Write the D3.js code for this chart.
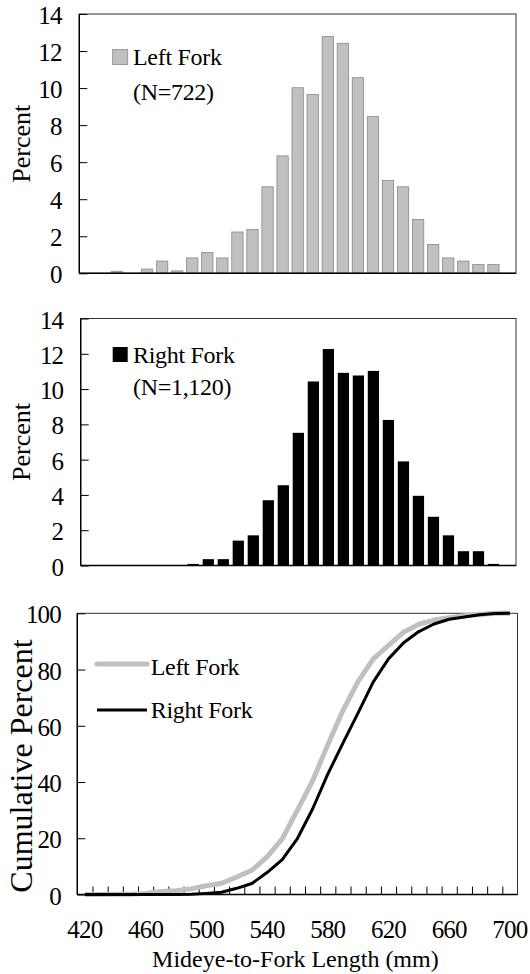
<!DOCTYPE html>
<html>
<head>
<meta charset="utf-8">
<script src="https://cdn.jsdelivr.net/npm/d3@7"></script>
<style>
  html, body { margin: 0; padding: 0; background: #fff; }
  svg { display: block; }
  text { font-family: "Liberation Serif", "Times New Roman", serif; fill: #000; }
</style>
</head>
<body>
<svg id="chart" width="530" height="974"></svg>
<script>
// Length classes (mm), 10-mm bins
const lengthClasses = ["420","430","440","450","460","470","480","490","500","510",
                       "520","530","540","550","560","570","580","590","600","610",
                       "620","630","640","650","660","670","680","690","700"];

// Percent of fish in each length class
const leftForkPct  = [0, 0, 0.11, 0, 0.23, 0.66, 0.13, 0.83, 1.13, 0.83,
                      2.23, 2.37, 4.67, 6.34, 10.02, 9.66, 12.78, 12.42, 10.56, 8.46,
                      5.01, 4.67, 2.91, 1.56, 0.83, 0.66, 0.47, 0.47, 0];
const rightForkPct = [0, 0, 0, 0, 0, 0, 0, 0.09, 0.36, 0.36,
                      1.41, 1.71, 3.70, 4.55, 7.52, 10.43, 12.27, 10.92, 10.77, 11.03,
                      8.25, 5.90, 3.95, 2.76, 1.71, 0.81, 0.81, 0.09, 0];

// Cumulative percent by length class
const leftForkCum  = [0, 0, 0.1, 0.1, 0.4, 1.1, 1.3, 2.0, 3.1, 4.0,
                      6.2, 8.6, 13.4, 19.8, 30.0, 40.4, 53.2, 65.4, 75.8, 83.8,
                      88.6, 93.3, 96.1, 97.6, 98.4, 99.1, 99.6, 100, 100];
const rightForkCum = [0, 0, 0, 0, 0, 0, 0, 0.1, 0.4, 0.8,
                      2.2, 3.9, 7.8, 12.4, 19.9, 30.4, 42.8, 53.8, 64.6, 75.6,
                      83.8, 89.5, 93.5, 96.2, 97.9, 98.7, 99.5, 99.9, 100];

// Axis tick values and labels
const pctTicks = [0, 2, 4, 6, 8, 10, 12, 14];
const cumTicks = [0, 20, 40, 60, 80, 100];
const xLabelClasses = ["420","460","500","540","580","620","660","700"];

const GRAY = "#c0c0c0";
const svg = d3.select("#chart");

function frame(g, b) {
  g.append("rect")
    .attr("x", b.left).attr("y", b.top)
    .attr("width", b.right - b.left).attr("height", b.bottom - b.top)
    .attr("fill", "none").attr("stroke", "#333").attr("stroke-width", 1);
  g.append("line").attr("x1", b.left).attr("x2", b.left)
    .attr("y1", b.top).attr("y2", b.bottom)
    .attr("stroke", "#000").attr("stroke-width", 1.4);
  g.append("line").attr("x1", b.left).attr("x2", b.right)
    .attr("y1", b.bottom).attr("y2", b.bottom)
    .attr("stroke", "#000").attr("stroke-width", 1.4);
}

function yAxis(g, b, y, ticks, labelRight) {
  const ax = g.append("g")
    .attr("transform", `translate(${b.left},0)`)
    .call(d3.axisLeft(y).tickValues(ticks).tickSize(-8)
      .tickPadding(b.left - labelRight).tickFormat(d3.format("d")));
  ax.select(".domain").remove();
  ax.selectAll(".tick line").attr("stroke", "#000").attr("stroke-width", 1);
  ax.selectAll(".tick text")
    .attr("font-size", 25).attr("letter-spacing", -0.8)
    .attr("font-family", "Liberation Serif").attr("fill", "#000")
    .attr("dy", "0.38em");
}

function yTitle(g, text, x, cy, size) {
  g.append("text")
    .attr("transform", `translate(${x},${cy}) rotate(-90)`)
    .attr("text-anchor", "middle")
    .attr("font-size", size)
    .text(text);
}

function histogram(b, values, fill, stroke, legendLines, legendY) {
  const g = svg.append("g");
  const x = d3.scaleBand().domain(lengthClasses)
    .range([b.left, b.right]).paddingInner(0.25).paddingOuter(0.125);
  const y = d3.scaleLinear().domain([0, 14]).range([b.bottom, b.top]);

  const data = lengthClasses.map((c, i) => ({ c, v: values[i] })).filter(d => d.v > 0);
  g.selectAll("rect.bar").data(data).join("rect")
    .attr("class", "bar")
    .attr("x", d => x(d.c))
    .attr("width", x.bandwidth())
    .attr("y", d => y(d.v))
    .attr("height", d => y(0) - y(d.v))
    .attr("fill", fill)
    .attr("stroke", stroke)
    .attr("stroke-width", stroke === "none" ? 0 : 0.8);

  frame(g, b);
  yAxis(g, b, y, pctTicks, b.labelRight);
  yTitle(g, "Percent", 30, (b.top + b.bottom) / 2, 26);

  // legend
  g.append("rect")
    .attr("x", 112.7).attr("y", legendY[0] - 15.5)
    .attr("width", 15).attr("height", 15)
    .attr("fill", fill).attr("stroke", stroke === "none" ? "none" : stroke)
    .attr("stroke-width", 0.8);
  g.append("text").attr("x", 133).attr("y", legendY[0])
    .attr("font-size", 24).attr("letter-spacing", -0.3).text(legendLines[0]);
  g.append("text").attr("x", 133).attr("y", legendY[1])
    .attr("font-size", 24).attr("letter-spacing", -0.3).text(legendLines[1]);
}

// Left fork histogram
histogram({ left: 79.3, right: 516, top: 14, bottom: 273.3, labelRight: 61.7 },
  leftForkPct, GRAY, "#888", ["Left Fork", "(N=722)"], [65, 100]);

// Right fork histogram
histogram({ left: 80.7, right: 516, top: 318.5, bottom: 565.5, labelRight: 63.3 },
  rightForkPct, "#000", "none", ["Right Fork", "(N=1,120)"], [362.5, 395]);

// Cumulative percent panel
(function () {
  const b = { left: 77.3, right: 517.5, top: 613.3, bottom: 894.5 };
  const g = svg.append("g");
  const x = d3.scaleBand().domain(lengthClasses).range([b.left, b.right]).padding(0);
  const xc = c => x(c) + x.bandwidth() / 2;
  const y = d3.scaleLinear().domain([0, 100]).range([b.bottom, b.top]);

  frame(g, b);

  // minor ticks between length classes
  const xi = d3.scaleLinear().domain([0, lengthClasses.length]).range([b.left, b.right]);
  const minor = g.append("g").attr("transform", `translate(0,${b.bottom})`)
    .call(d3.axisBottom(xi).tickValues(d3.range(1, lengthClasses.length))
      .tickSize(-8).tickFormat(""));
  minor.select(".domain").remove();
  minor.selectAll(".tick line").attr("stroke", "#000").attr("stroke-width", 1);

  // x labels
  const xl = g.append("g").attr("transform", `translate(0,${b.bottom})`)
    .call(d3.axisBottom(x).tickValues(xLabelClasses).tickSize(0).tickPadding(0));
  xl.select(".domain").remove();
  xl.selectAll(".tick text")
    .attr("font-size", 25).attr("letter-spacing", -0.8)
    .attr("font-family", "Liberation Serif").attr("fill", "#000")
    .attr("dy", 0).attr("y", 43.5);

  yAxis(g, b, y, cumTicks, 61);
  yTitle(g, "Cumulative Percent", 31.5, 766, 32);

  g.append("text")
    .attr("x", (b.left + b.right) / 2 - 2).attr("y", 967)
    .attr("text-anchor", "middle").attr("font-size", 24)
    .text("Mideye-to-Fork Length (mm)");

  const line = d3.line().x((d, i) => xc(lengthClasses[i])).y(d => y(d));

  g.append("path").datum(leftForkCum)
    .attr("d", line).attr("fill", "none")
    .attr("stroke", GRAY).attr("stroke-width", 5).attr("stroke-linejoin", "round");
  g.append("path").datum(rightForkCum)
    .attr("d", line).attr("fill", "none")
    .attr("stroke", "#000").attr("stroke-width", 3).attr("stroke-linejoin", "round");

  // legend
  g.append("line").attr("x1", 97).attr("x2", 147).attr("y1", 664).attr("y2", 664)
    .attr("stroke", GRAY).attr("stroke-width", 5).attr("stroke-linecap", "round");
  g.append("text").attr("x", 150.7).attr("y", 675)
    .attr("font-size", 24).attr("letter-spacing", -0.3).text("Left Fork");
  g.append("line").attr("x1", 97).attr("x2", 147).attr("y1", 710).attr("y2", 710)
    .attr("stroke", "#000").attr("stroke-width", 3);
  g.append("text").attr("x", 150.7).attr("y", 718)
    .attr("font-size", 24).attr("letter-spacing", -0.3).text("Right Fork");
})();
</script>
</body>
</html>
